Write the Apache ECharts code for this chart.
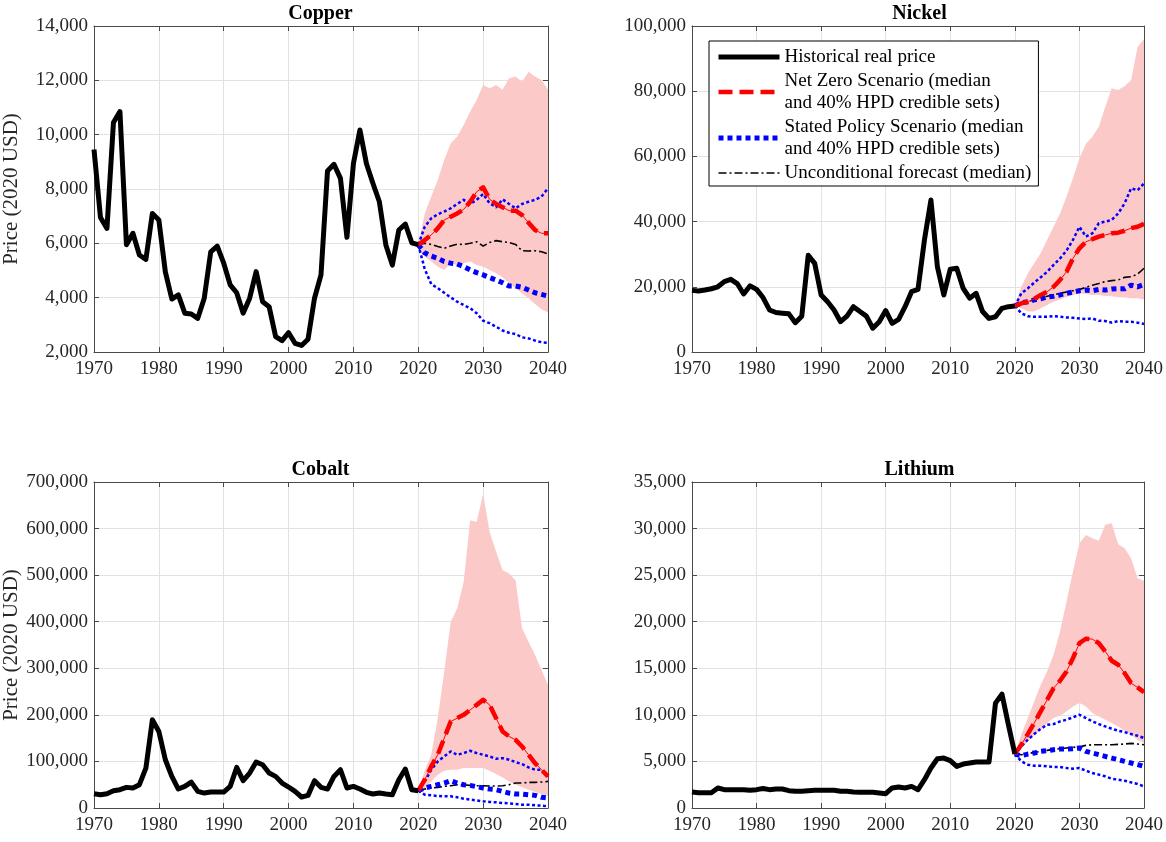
<!DOCTYPE html>
<html>
<head>
<meta charset="utf-8">
<script src="https://cdn.jsdelivr.net/npm/echarts@6/dist/echarts.min.js"></script>
<style>html,body{margin:0;padding:0;background:#fff}#c{width:1166px;height:842px}</style>
</head>
<body>
<div id="c"></div>
<script>
// ---------- x categories ----------
const histYears = []; for (let y = 1970; y <= 2020; y++) histYears.push(y);
const fcYears = []; for (let y = 2020; y <= 2040; y++) fcYears.push(y);

// ---------- Copper ----------
const copperHist = [9450,6950,6550,10450,10850,5950,6370,5570,5410,7100,
  6860,4950,3950,4100,3430,3400,3240,3980,5690,5900,
  5270,4470,4180,3430,3980,4960,3850,3670,2570,2420,
  2710,2320,2240,2470,3980,4840,8660,8910,8390,6220,
  8940,10170,8940,8210,7530,5940,5200,6490,6710,6020,
  5950];
const copperNZ = [5950,6120,6310,6550,6860,6980,7100,7250,7530,7900,8060,7620,7450,7330,7200,7200,7040,6760,6490,6370,6370];
const copperSPmed = [5950,5650,5530,5450,5330,5270,5240,5140,5020,4920,4840,4740,4650,4550,4430,4430,4380,4280,4180,4120,4060];
const copperSPup = [5950,6610,6920,7070,7170,7290,7450,7600,7450,7600,7820,7470,7330,7620,7450,7290,7450,7530,7600,7720,8030];
const copperSPlo = [5950,5050,4500,4350,4180,4010,3850,3730,3610,3430,3150,3060,2930,2790,2710,2660,2540,2500,2420,2360,2340];
const copperUnc = [5950,6000,5960,5880,5820,5900,5970,5960,6000,6060,5900,6030,6100,6060,6030,5960,5730,5720,5730,5690,5610];
const copperBandUp = [5950,7100,7720,8330,9070,9680,9930,10360,10850,11280,11830,11710,11830,11650,12080,12140,11950,12320,12140,12010,11650];
const copperBandLo = [5950,5510,5330,5140,5020,5270,5200,5270,5330,5200,5140,5020,4900,4750,4530,4350,4160,3980,3770,3570,3450];

// ---------- Nickel ----------
const nickelHist = [18900,18700,19000,19400,20000,21600,22300,21000,17800,20300,
  19200,16700,12900,12100,11900,11700,9000,11000,29700,27200,
  17500,15400,12900,9300,11000,13900,12400,11000,7300,9300,
  12700,8800,10000,13900,18500,19200,34400,46600,26200,17500,
  25400,25700,19500,16500,18000,12400,10300,10800,13400,13900,
  14100];
const nickelNZ = [14100,14900,15400,16300,17500,18500,20000,22100,24600,28700,31800,33800,34600,35400,35900,36400,36600,37200,38000,38400,39300];
const nickelSPmed = [14100,15100,15400,16000,16300,16900,17100,17500,18000,18400,18800,19000,18800,19200,19000,19300,19400,19400,20500,20000,20700];
const nickelSPup = [14100,18000,19500,21300,22900,24600,26700,28700,31100,34400,38400,35400,36400,39500,40000,40500,42500,45600,50200,49600,51700];
const nickelSPlo = [14100,11900,11000,10800,10800,10800,11000,10800,10600,10500,10300,10100,10300,9600,9500,9000,9500,9300,9300,9000,8600];
const nickelUnc = [14100,14700,15400,16000,16500,17100,17500,18000,18400,18800,19200,19800,20500,21000,21600,21900,22100,22900,23100,23900,25700];
const nickelBandUp = [14100,20000,24100,27200,30300,34400,38400,42500,47600,53300,59400,63800,66000,69100,75200,80900,80400,81500,83400,93500,96000];
const nickelBandLo = [14100,13400,12400,12400,13400,14400,15400,16100,16900,17500,18000,17800,17500,17500,17200,17100,16800,16700,16500,16500,16100];

// ---------- Cobalt ----------
const cobaltHist = [30700,28600,30700,37100,39300,44300,42900,50000,85700,189300,
  164300,103600,67900,40700,46400,55700,35700,32100,34300,34300,
  34300,46400,87100,58600,75000,98600,92900,75000,67900,53600,
  45000,35700,23600,27100,58600,44300,40700,67900,82100,42900,
  46400,40700,33600,30000,32100,30000,28600,60700,83600,39300,
  37100];
const cobaltNZ = [37100,60700,89300,114300,150000,185700,192900,200000,210700,221400,232100,221400,192900,164300,153600,146400,132100,114300,96400,82100,67900];
const cobaltSPmed = [37100,42900,46400,50000,53600,58600,53600,50000,48600,45700,42900,40700,39300,35700,32100,30000,30000,28600,27100,22900,21400];
const cobaltSPup = [37100,57100,82100,100000,110700,121400,114300,117900,122900,117900,114300,110700,105700,107100,103600,98600,94300,87100,82100,82100,67900];
const cobaltSPlo = [37100,28600,27100,25700,25000,25000,22900,20000,17900,16400,14300,12900,12200,10700,10000,8600,7100,7100,5700,5000,3600];
const cobaltUnc = [37100,40700,42900,44300,46400,47900,50000,50000,48600,47900,47900,47100,47100,47900,50000,53600,53600,55000,55000,55700,57100];
const cobaltBandUp = [37100,80000,114300,192900,292900,400000,428600,485700,617900,614300,675000,592900,550000,510700,503600,489300,385700,357100,328600,296400,264300];
const cobaltBandLo = [37100,42900,57100,71400,80000,82100,82100,85700,85700,85700,85700,80000,72900,65700,57100,50000,44300,39300,34300,30000,25000];

// ---------- Lithium ----------
const lithiumHist = [1720,1640,1640,1640,2150,1970,1970,1970,1970,1900,
  1970,2100,1970,2040,2040,1860,1790,1790,1860,1900,
  1900,1900,1900,1790,1790,1720,1690,1690,1690,1610,
  1540,2150,2250,2150,2320,1970,3040,4290,5290,5360,
  5080,4470,4720,4830,4930,4930,4930,11260,12230,8940,
  5790];
const lithiumNZ = [5790,6790,7940,9120,10370,11620,12870,13660,14660,16090,17700,18170,18130,17700,16810,15810,15380,14480,13410,12950,12440];
const lithiumSPmed = [5790,5610,5790,5900,6080,6150,6260,6330,6330,6370,6440,6080,5900,5720,5540,5360,5190,5010,4830,4650,4470];
const lithiumSPup = [5790,6620,7330,7940,8510,8940,9010,9300,9480,9730,10010,9660,9300,9010,8760,8510,8300,8150,7940,7760,7510];
const lithiumSPlo = [5790,5010,4650,4540,4540,4470,4400,4400,4290,4220,4290,4010,3750,3580,3400,3150,3040,2930,2750,2570,2320];
const lithiumUnc = [5790,5720,5830,5970,6080,6190,6290,6370,6440,6510,6580,6720,6790,6790,6790,6790,6830,6870,6940,6870,6790];
const lithiumBandUp = [5790,7870,9660,11440,13230,14660,16450,18950,22170,25390,28430,29320,28970,28680,30400,30570,28320,27890,26820,24670,24390];
const lithiumBandLo = [5790,6440,7150,7800,8400,9120,9660,9940,10370,10910,11260,10910,10190,9830,9480,9120,8760,8300,7870,7330,6970];

// ---------- names ----------
const NAME_HIST = 'Historical real price';
const NAME_NZ = 'Net Zero Scenario (median and 40% HPD credible sets)';
const NAME_SP = 'Stated Policy Scenario (median and 40% HPD credible sets)';
const NAME_UNC = 'Unconditional forecast (median)';
const Y_NAME = 'Price (2020 USD)';

// ---------- layout / style ----------
const FONT = 'Liberation Serif';
const AXIS_COL = '#4a4a4a';
const LABEL_COL = '#262626';
const GRID_COL = '#e2e2e2';
const BAND_COL = '#fcc9c9';

const panels = [
  {title:'Copper', rect:{left:93, top:26}, yMin:2000, yMax:14000, yInt:2000, yName:true,
   hist:copperHist, nz:copperNZ, spMed:copperSPmed, spUp:copperSPup, spLo:copperSPlo, unc:copperUnc, bUp:copperBandUp, bLo:copperBandLo},
  {title:'Nickel', rect:{left:692, top:26}, yMin:0, yMax:100000, yInt:20000, yName:false,
   hist:nickelHist, nz:nickelNZ, spMed:nickelSPmed, spUp:nickelSPup, spLo:nickelSPlo, unc:nickelUnc, bUp:nickelBandUp, bLo:nickelBandLo},
  {title:'Cobalt', rect:{left:93, top:482}, yMin:0, yMax:700000, yInt:100000, yName:true,
   hist:cobaltHist, nz:cobaltNZ, spMed:cobaltSPmed, spUp:cobaltSPup, spLo:cobaltSPlo, unc:cobaltUnc, bUp:cobaltBandUp, bLo:cobaltBandLo},
  {title:'Lithium', rect:{left:692, top:482}, yMin:0, yMax:35000, yInt:5000, yName:false,
   hist:lithiumHist, nz:lithiumNZ, spMed:lithiumSPmed, spUp:lithiumSPup, spLo:lithiumSPlo, unc:lithiumUnc, bUp:lithiumBandUp, bLo:lithiumBandLo}
];
const W = 455, H = 326;

const grids = [], xAxes = [], yAxes = [], series = [], titles = [];

panels.forEach((p, i) => {
  grids.push({left:p.rect.left, top:p.rect.top, width:W, height:H, containLabel:false});
  titles.push({text:p.title, left:p.rect.left + W/2, top:p.rect.top - 22, textAlign:'center', padding:0,
    textStyle:{fontFamily:FONT, fontSize:20, fontWeight:'bold', color:'#000'}});
  const tickCommon = {show:true, inside:true, length:5, lineStyle:{color:AXIS_COL, width:1}};
  const lineCommon = {show:true, onZero:false, lineStyle:{color:AXIS_COL, width:1}};
  xAxes.push({gridIndex:i, type:'value', position:'bottom', min:1970, max:2040, interval:10,
    axisLine:lineCommon, axisTick:tickCommon,
    axisLabel:{margin:8, color:LABEL_COL, fontFamily:FONT, fontSize:19, formatter:v => String(v)},
    splitLine:{show:true, lineStyle:{color:GRID_COL, width:1}}});
  xAxes.push({gridIndex:i, type:'value', position:'top', min:1970, max:2040, interval:10,
    axisLine:lineCommon, axisTick:tickCommon, axisLabel:{show:false}, splitLine:{show:false}});
  const yMain = {gridIndex:i, type:'value', position:'left', min:p.yMin, max:p.yMax, interval:p.yInt,
    axisLine:lineCommon, axisTick:tickCommon,
    axisLabel:{margin:6, color:LABEL_COL, fontFamily:FONT, fontSize:19, formatter:v => v.toLocaleString('en-US')},
    splitLine:{show:true, lineStyle:{color:GRID_COL, width:1}}};
  if (p.yName) {
    yMain.name = Y_NAME; yMain.nameLocation = 'middle'; yMain.nameGap = 72;
    yMain.nameTextStyle = {fontFamily:FONT, fontSize:21, color:LABEL_COL};
  }
  yAxes.push(yMain);
  yAxes.push({gridIndex:i, type:'value', position:'right', min:p.yMin, max:p.yMax, interval:p.yInt,
    axisLine:lineCommon, axisTick:tickCommon, axisLabel:{show:false}, splitLine:{show:false}});

  const xi = 2*i, yi = 2*i;
  const fc = arr => fcYears.map((y, k) => [y, arr[k]]);
  const bLo = p.bLo, bUp = p.bUp;
  series.push({type:'custom', name:p.title + ' NZ band', xAxisIndex:xi, yAxisIndex:yi, z:1, silent:true,
    data: fcYears.map((y, k) => [y, bLo[k], bUp[k]]),
    encode:{x:0, y:[1,2]},
    renderItem: (params, api) => {
      if (params.dataIndex !== 0) return null;
      const pts = [];
      for (let k = 0; k < fcYears.length; k++) pts.push(api.coord([fcYears[k], bUp[k]]));
      for (let k = fcYears.length - 1; k >= 0; k--) pts.push(api.coord([fcYears[k], bLo[k]]));
      return {type:'polygon', shape:{points:pts}, style:{fill:BAND_COL}, silent:true};
    }});
  const ln = (name, data, color, width, type, z) => ({type:'line', name, xAxisIndex:xi, yAxisIndex:yi,
    data, symbol:'none', showSymbol:false, silent:true, z: z || 2, animation:false,
    lineStyle:{color, width, type, cap:'butt', join:'round'}, itemStyle:{color}});
  series.push(ln(NAME_UNC, fc(p.unc), '#000000', 1.6, [8,3,2,3], 3));
  series.push(ln(p.title + ' SP lower', fc(p.spLo), '#0000ff', 2.5, [3,2.5], 3));
  series.push(ln(p.title + ' SP upper', fc(p.spUp), '#0000ff', 2.5, [3,2.5], 3));
  series.push(ln(NAME_SP, fc(p.spMed), '#0000ff', 5, [5,4], 4));
  series.push(ln(p.title + ' NZ thin', fc(p.nz), '#ff0000', 1, 'solid', 5));
  series.push(ln(NAME_NZ, fc(p.nz), '#ff0000', 4.5, [14,7], 5));
  series.push(ln(NAME_HIST, histYears.map((y, k) => [y, p.hist[k]]), '#000000', 5, 'solid', 6));
});

const chart = echarts.init(document.getElementById('c'), null, {renderer:'canvas'});
chart.setOption({
  animation:false,
  backgroundColor:'#ffffff',
  title: titles,
  grid: grids,
  xAxis: xAxes,
  yAxis: yAxes,
  legend: {
    data:[NAME_HIST, NAME_NZ, NAME_SP, NAME_UNC],
    orient:'vertical', left:709, top:41,
    itemWidth:61, itemHeight:14, itemGap:2,
    padding:[5, 7, 2, 7],
    backgroundColor:'#ffffff', borderColor:'#000000', borderWidth:1, borderRadius:0,
    selectedMode:false,
    textStyle:{fontFamily:FONT, fontSize:19, lineHeight:22, color:'#000'},
    formatter: n => n.replace(' and 40%', '\nand 40%'),
    lineStyle:{width:'inherit', type:'inherit'},
    itemStyle:{opacity:0},
    z:10
  },
  series: series
});
</script>
</body>
</html>
